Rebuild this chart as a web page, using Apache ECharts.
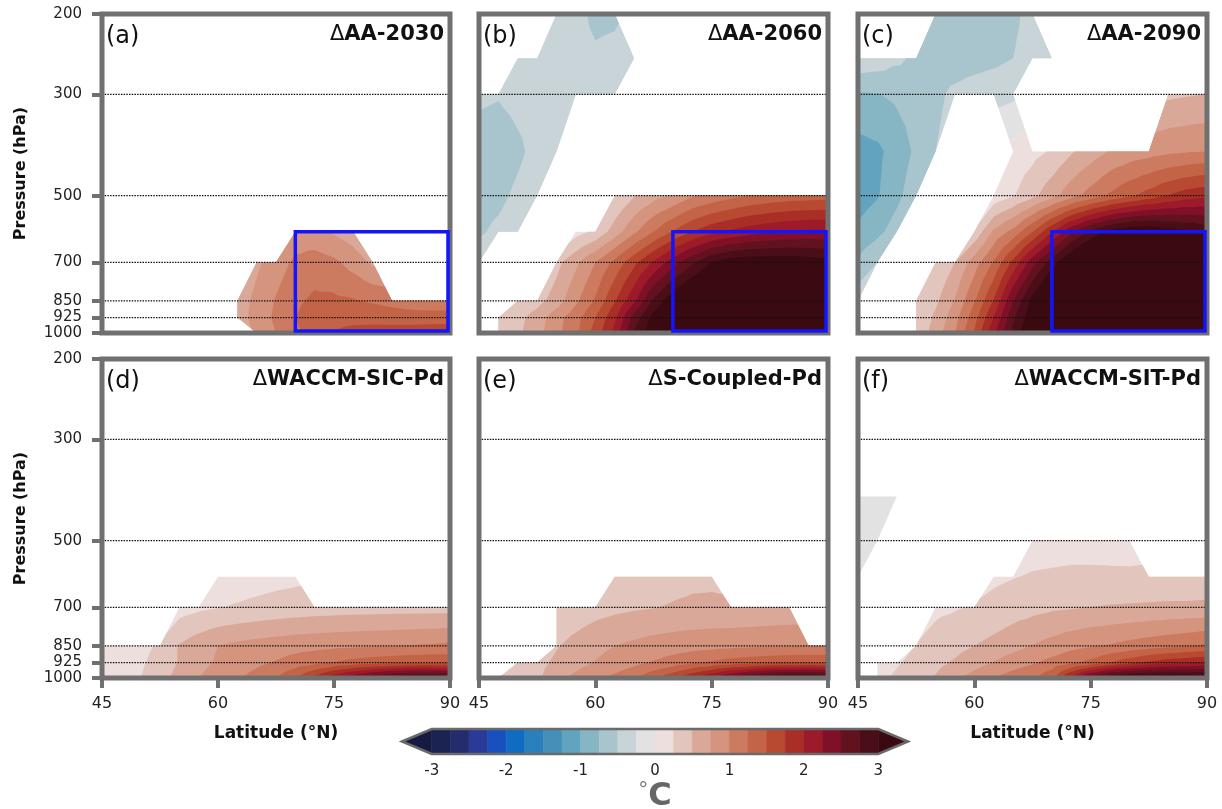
<!DOCTYPE html>
<html>
<head>
<meta charset="utf-8">
<script src="https://cdn.jsdelivr.net/npm/echarts@6/dist/echarts.min.js"></script>
<style>
  html, body { margin: 0; padding: 0; background: #fff; }
  #chart { width: 1222px; height: 809px; }
</style>
</head>
<body>
<div id="chart"></div>
<script>
const _ = null;

// grid of the zonal-mean temperature responses (°C); rows run 1000 -> 200 hPa, columns 45 -> 90°N
const LATS = [45, 47.5, 50, 52.5, 55, 57.5, 60, 62.5, 65, 67.5, 70, 72.5, 75, 77.5, 80, 82.5, 85, 87.5, 90];
const LEVELS = [1000, 925, 850, 700, 600, 500, 400, 300, 250, 200];
const PRESSURE_TICKS = [200, 300, 500, 700, 850, 925, 1000];
const DOTTED_LEVELS = [300, 500, 700, 850, 925];
const CONTOUR_LEVELS = [-3, -2.75, -2.5, -2.25, -2, -1.75, -1.5, -1.25, -1, -0.75, -0.5, -0.25, 0,
  0.25, 0.5, 0.75, 1, 1.25, 1.5, 1.75, 2, 2.25, 2.5, 2.75, 3];
const BAND_COLORS = ['#161a40',
  '#1b2352', '#242c6e', '#2a3a98', '#1a4fbe', '#0f6cc0', '#2a80bc', '#4590b8', '#62a4bf', '#86b6c4', '#a8c4cc', '#c8d4d8', '#e2e2e2',
  '#ecdfdd', '#e2c5bc', '#daa898', '#d4947e', '#cc7a60', '#c46446', '#b84a32', '#a82e26', '#9c1a2a', '#801028', '#62121e', '#4a0e18',
  '#3a0a10'];
const CBAR_LABELS = [-3, -2, -1, 0, 1, 2, 3];
const PANEL_TAGS = ['(a)', '(b)', '(c)', '(d)', '(e)', '(f)'];
const PANEL_TITLES = ['AA-2030', 'AA-2060', 'AA-2090', 'WACCM-SIC-Pd', 'S-Coupled-Pd', 'WACCM-SIT-Pd'];
const AA_BOX = { lat: [70, 90], p: [600, 1000] };

const NONE = [_, _, _, _, _, _, _, _, _, _, _, _, _, _, _, _, _, _, _];

const dT_AA2030 = [
  [_, _, _, _, _, _, _, _, 0.8, 1.0, 1.2, 1.38, 1.52, 1.58, 1.62, 1.64, 1.66, 1.68, 1.7],
  [_, _, _, _, _, _, _, 0.62, 0.85, 1.05, 1.25, 1.38, 1.42, 1.42, 1.4, 1.38, 1.36, 1.36, 1.36],
  [_, _, _, _, _, _, _, 0.62, 0.82, 1.02, 1.2, 1.3, 1.3, 1.27, 1.22, 1.17, 1.12, 1.1, 1.1],
  [_, _, _, _, _, _, _, _, 0.7, 0.88, 1.05, 1.12, 1.05, 0.9, 0.7, _, _, _, _],
  [_, _, _, _, _, _, _, _, _, _, 0.85, 0.82, 0.72, 0.6, _, _, _, _, _],
  NONE, NONE, NONE, NONE, NONE
];

const dT_AA2060 = [
  [_, 0.3, 0.45, 0.66, 0.93, 1.2, 1.6, 2.08, 2.8, 3.2, 3.5, 3.7, 3.8, 3.85, 3.85, 3.85, 3.85, 3.85, 3.85],
  [_, 0.3, 0.42, 0.62, 0.9, 1.15, 1.5, 1.95, 2.6, 3.1, 3.4, 3.6, 3.75, 3.8, 3.85, 3.85, 3.85, 3.85, 3.85],
  [_, _, 0.28, 0.4, 0.62, 0.95, 1.28, 1.73, 2.2, 2.8, 3.2, 3.5, 3.7, 3.8, 3.85, 3.85, 3.85, 3.85, 3.85],
  [-0.4, _, _, _, 0.42, 0.7, 1.0, 1.32, 1.68, 2.03, 2.38, 2.7, 3.0, 3.15, 3.2, 3.2, 3.2, 3.15, 3.1],
  [-0.53, -0.45, -0.35, _, _, 0.15, 0.3, 0.62, 0.95, 1.25, 1.52, 1.75, 1.93, 2.05, 2.15, 2.22, 2.27, 2.3, 2.3],
  [-0.6, -0.56, -0.45, -0.33, _, _, _, 0.24, 0.48, 0.66, 0.78, 0.97, 1.08, 1.17, 1.26, 1.32, 1.36, 1.38, 1.4],
  [-0.62, -0.65, -0.55, -0.42, -0.33, _, _, _, _, _, _, _, _, _, _, _, _, _, _],
  [-0.45, -0.48, -0.42, -0.38, -0.36, -0.34, -0.32, -0.3, _, _, _, _, _, _, _, _, _, _, _],
  [_, _, -0.3, -0.33, -0.36, -0.4, -0.46, -0.42, -0.32, _, _, _, _, _, _, _, _, _, _],
  [_, _, _, _, -0.33, -0.42, -0.56, -0.55, _, _, _, _, _, _, _, _, _, _, _]
];

const dT_AA2090 = [
  [_, _, _, 0.3, 0.62, 1.0, 1.53, 2.2, 2.82, 3.3, 3.6, 3.8, 3.9, 3.95, 3.95, 3.95, 3.95, 3.9, 3.9],
  [_, _, _, 0.28, 0.55, 0.9, 1.4, 2.0, 2.7, 3.2, 3.6, 3.8, 3.9, 3.95, 3.95, 3.95, 3.95, 3.9, 3.9],
  [-0.35, _, _, 0.28, 0.45, 0.77, 1.23, 1.77, 2.5, 3.1, 3.6, 3.85, 3.95, 4.0, 4.0, 4.0, 4.0, 3.95, 3.9],
  [-0.7, -0.5, _, _, 0.25, 0.5, 0.88, 1.28, 1.82, 2.4, 2.88, 3.3, 3.6, 3.8, 3.9, 3.9, 3.9, 3.8, 3.7],
  [-0.95, -0.82, -0.62, _, _, _, 0.3, 0.8, 1.08, 1.5, 1.98, 2.46, 2.82, 3.1, 3.25, 3.25, 3.15, 3.05, 2.95],
  [-1.12, -1.02, -0.82, -0.58, _, _, _, 0.08, 0.23, 0.43, 0.66, 0.9, 1.1, 1.29, 1.45, 1.6, 1.76, 1.88, 1.95],
  [-1.1, -1.05, -0.9, -0.7, -0.5, _, _, _, 0.08, 0.17, 0.28, 0.47, 0.62, 0.77, 0.85, 0.9, 0.95, 0.98, 1.0],
  [-0.78, -0.76, -0.7, -0.62, -0.55, -0.45, -0.38, -0.35, -0.3, _, _, _, _, _, _, _, 0.45, 0.48, 0.5],
  [-0.3, -0.35, -0.45, -0.55, -0.6, -0.62, -0.6, -0.56, -0.5, -0.4, -0.3, _, _, _, _, _, _, _, _],
  [_, _, _, _, -0.55, -0.6, -0.62, -0.6, -0.55, -0.42, _, _, _, _, _, _, _, _, _]
];

const dT_SIC = [
  [0.08, 0.16, 0.25, 0.42, 0.58, 0.75, 0.86, 0.97, 1.1, 1.26, 1.5, 1.85, 2.2, 2.5, 2.75, 2.95, 3.05, 3.05, 3.0],
  [0.06, 0.13, 0.21, 0.36, 0.52, 0.68, 0.78, 0.86, 0.94, 1.02, 1.1, 1.18, 1.26, 1.33, 1.38, 1.42, 1.45, 1.46, 1.45],
  [0.04, 0.09, 0.16, 0.3, 0.52, 0.64, 0.75, 0.81, 0.85, 0.88, 0.91, 0.93, 0.95, 0.96, 0.98, 0.99, 1.01, 1.03, 1.05],
  [_, _, _, _, 0.14, 0.2, 0.24, 0.27, 0.3, 0.33, 0.35, 0.37, 0.38, 0.39, 0.39, 0.4, 0.4, 0.4, 0.4],
  [_, _, _, _, _, _, 0.12, 0.14, 0.16, 0.18, 0.2, _, _, _, _, _, _, _, _],
  NONE, NONE, NONE, NONE, NONE
];

const dT_COUPLED = [
  [_, 0.3, 0.38, 0.46, 0.66, 0.82, 0.95, 1.06, 1.2, 1.45, 1.7, 2.0, 2.3, 2.6, 2.85, 3.05, 3.15, 3.15, 3.1],
  [_, _, 0.34, 0.42, 0.55, 0.66, 0.76, 0.85, 0.93, 1.02, 1.1, 1.2, 1.28, 1.35, 1.4, 1.44, 1.46, 1.47, 1.46],
  [_, _, _, _, 0.48, 0.58, 0.68, 0.75, 0.8, 0.85, 0.88, 0.9, 0.92, 0.94, 0.96, 0.98, 0.99, 1.0, 1.0],
  [_, _, _, _, 0.3, 0.35, 0.4, 0.44, 0.47, 0.49, 0.52, 0.54, 0.54, 0.53, 0.53, 0.54, 0.55, _, _],
  [_, _, _, _, _, _, _, 0.3, 0.33, 0.38, 0.42, 0.45, 0.46, _, _, _, _, _, _],
  NONE, NONE, NONE, NONE, NONE
];

const dT_SIT = [
  [_, 0.15, 0.3, 0.42, 0.52, 0.7, 0.85, 1.0, 1.12, 1.22, 1.45, 2.1, 2.7, 3.05, 3.2, 3.25, 3.25, 3.2, 3.2],
  [_, 0.12, 0.22, 0.33, 0.43, 0.53, 0.65, 0.76, 0.88, 0.97, 1.08, 1.2, 1.32, 1.5, 1.65, 1.8, 1.9, 1.95, 2.0],
  [_, _, _, 0.26, 0.34, 0.42, 0.5, 0.57, 0.66, 0.76, 0.84, 0.92, 0.98, 1.02, 1.08, 1.13, 1.18, 1.23, 1.28],
  [_, _, _, _, 0.2, 0.23, 0.27, 0.33, 0.38, 0.42, 0.46, 0.48, 0.5, 0.52, 0.53, 0.54, 0.55, 0.55, 0.56],
  [-0.05, _, _, _, _, _, _, 0.2, 0.24, 0.27, 0.28, 0.29, 0.29, 0.29, 0.29, 0.3, 0.3, 0.31, 0.31],
  [-0.12, -0.08, _, _, _, _, _, _, _, 0.14, 0.16, 0.17, 0.17, 0.16, 0.15, _, _, _, _],
  [-0.15, -0.12, -0.08, _, _, _, _, _, _, _, _, _, _, _, _, _, _, _, _],
  NONE, NONE, NONE
];

const FIELDS = [dT_AA2030, dT_AA2060, dT_AA2090, dT_SIC, dT_COUPLED, dT_SIT];

// layout
const FONT = '"DejaVu Sans", sans-serif';
const COL_LEFT = [102, 479, 858];
const COL_WIDTH = [348, 349, 349];
const ROW_TOP = [14, 359];
const ROW_HEIGHT = 319;
const FRAME = '#707070';
const CBAR_TIP = 0.4;

const LAT_MIN = LATS[0], LAT_MAX = LATS[LATS.length - 1];
const LOG_TOP = Math.log10(LEVELS[LEVELS.length - 1]), LOG_BOTTOM = Math.log10(LEVELS[0]);

// keep the part of a polygon where s * (v - c) >= 0 (v linear along the edges)
function clip(poly, c, s) {
  const out = [];
  for (let i = 0; i < poly.length; i++) {
    const p = poly[i], q = poly[(i + 1) % poly.length];
    const pin = s * (p[2] - c) >= 0, qin = s * (q[2] - c) >= 0;
    if (pin) out.push(p);
    if (pin !== qin) {
      const t = (c - p[2]) / (q[2] - p[2]);
      out.push([p[0] + t * (q[0] - p[0]), p[1] + t * (q[1] - p[1]), c]);
    }
  }
  return out;
}

// split each grid cell into triangles; a cell with one masked corner keeps the other three
function triangles(field) {
  const tris = [];
  const ly = LEVELS.map(p => Math.log10(p));
  for (let k = 0; k < LEVELS.length - 1; k++) {
    for (let i = 0; i < LATS.length - 1; i++) {
      const c = [
        [LATS[i], ly[k], field[k][i]],
        [LATS[i + 1], ly[k], field[k][i + 1]],
        [LATS[i + 1], ly[k + 1], field[k + 1][i + 1]],
        [LATS[i], ly[k + 1], field[k + 1][i]]
      ];
      const ok = c.filter(q => q[2] !== null);
      if (ok.length === 4) {
        const m = [(c[0][0] + c[1][0]) / 2, (c[0][1] + c[3][1]) / 2,
          (c[0][2] + c[1][2] + c[2][2] + c[3][2]) / 4];
        for (let j = 0; j < 4; j++) tris.push([c[j], c[(j + 1) % 4], m]);
      } else if (ok.length === 3) {
        tris.push(ok);
      }
    }
  }
  return tris;
}

// stacked fill layers: v < 0, v < -0.25, ... and v >= 0, v >= 0.25, ... painted in order
function contourLayers(field) {
  const tris = triangles(field);
  const zero = CONTOUR_LEVELS.indexOf(0);
  const defs = [];
  for (let j = zero; j >= 0; j--) defs.push({ color: BAND_COLORS[j], c: CONTOUR_LEVELS[j], s: -1 });
  for (let j = zero; j < CONTOUR_LEVELS.length; j++) defs.push({ color: BAND_COLORS[j + 1], c: CONTOUR_LEVELS[j], s: 1 });
  const layers = [];
  defs.forEach(d => {
    const polys = [];
    tris.forEach(t => {
      const poly = clip(t, d.c, d.s);
      if (poly.length >= 3) polys.push(poly.map(q => [q[0], q[1]]));
    });
    if (polys.length) layers.push({ color: d.color, polys: polys });
  });
  return layers;
}

const chart = echarts.init(document.getElementById('chart'));

const grids = [], xAxes = [], yAxes = [], series = [], texts = [];
const tickVals = PRESSURE_TICKS.map(p => Math.log10(p));

FIELDS.forEach((field, p) => {
  const r = Math.floor(p / 3), c = p % 3;
  const left = COL_LEFT[c], top = ROW_TOP[r];
  grids.push({ left: left, top: top, width: COL_WIDTH[c], height: ROW_HEIGHT, outerBoundsMode: 'none' });
  const bottomRow = r === 1, leftCol = c === 0;
  xAxes.push({
    gridIndex: p, type: 'value', min: 45, max: 90, interval: 15,
    axisLine: { show: false }, splitLine: { show: false },
    axisTick: { show: bottomRow, length: 10, lineStyle: { color: FRAME, width: 4 } },
    axisLabel: { show: bottomRow, fontSize: 16, color: '#222', margin: 18, fontFamily: FONT, hideOverlap: false },
    name: bottomRow && c !== 1 ? 'Latitude (°N)' : '',
    nameLocation: 'middle', nameGap: 47,
    nameTextStyle: { fontSize: 17, fontWeight: 'bold', color: '#111', fontFamily: FONT }
  });
  yAxes.push({
    gridIndex: p, type: 'value', inverse: true, min: LOG_TOP, max: LOG_BOTTOM,
    axisLine: { show: false }, splitLine: { show: false },
    axisTick: { show: leftCol, customValues: tickVals, length: 10, lineStyle: { color: FRAME, width: 4 } },
    axisLabel: {
      show: leftCol, customValues: tickVals, fontSize: 15, color: '#222', margin: 20,
      fontFamily: FONT, hideOverlap: false,
      formatter: v => String(Math.round(Math.pow(10, v)))
    },
    name: leftCol ? 'Pressure (hPa)' : '', nameLocation: 'middle', nameGap: 73, nameRotate: 90,
    nameTextStyle: { fontSize: 16, fontWeight: 'bold', color: '#111', fontFamily: FONT }
  });

  const layers = contourLayers(field);
  series.push({
    type: 'custom', xAxisIndex: p, yAxisIndex: p, z: 2, silent: true,
    data: layers.map((d, i) => [i]),
    renderItem: (params, api) => {
      const layer = layers[api.value(0)];
      const d = layer.polys.map(poly =>
        'M' + poly.map(q => api.coord(q).map(v => v.toFixed(2)).join(' ')).join('L') + 'Z').join('');
      return { type: 'path', shape: { pathData: d }, style: { fill: layer.color, stroke: null } };
    }
  });
  series.push({
    type: 'custom', xAxisIndex: p, yAxisIndex: p, z: 3, silent: true,
    data: DOTTED_LEVELS.map(v => [v]),
    renderItem: (params, api) => {
      const lp = Math.log10(api.value(0));
      const a = api.coord([LAT_MIN, lp]), b = api.coord([LAT_MAX, lp]);
      return { type: 'line', shape: { x1: a[0], y1: a[1], x2: b[0], y2: b[1] },
        style: { stroke: '#111', lineWidth: 1.3, lineDash: [1.5, 1.2] } };
    }
  });
  series.push({
    type: 'custom', xAxisIndex: p, yAxisIndex: p, z: 4, silent: true,
    data: [[0]],
    renderItem: (params, api) => {
      const a = api.coord([LAT_MIN, LOG_TOP]), b = api.coord([LAT_MAX, LOG_BOTTOM]);
      return { type: 'rect', shape: { x: a[0], y: a[1], width: b[0] - a[0], height: b[1] - a[1] },
        style: { fill: 'none', stroke: FRAME, lineWidth: 5 } };
    }
  });
  if (r === 0) {
    series.push({
      type: 'custom', xAxisIndex: p, yAxisIndex: p, z: 5, silent: true,
      data: [[AA_BOX.lat[0]]],
      renderItem: (params, api) => {
        const a = api.coord([AA_BOX.lat[0], Math.log10(AA_BOX.p[0])]);
        const b = api.coord([AA_BOX.lat[1], Math.log10(AA_BOX.p[1])]);
        return { type: 'rect', shape: { x: a[0], y: a[1], width: b[0] - a[0] - 2, height: b[1] - a[1] - 2 },
          style: { fill: 'none', stroke: '#1414ff', lineWidth: 3.5 } };
      }
    });
  }

  texts.push({
    type: 'text', x: left + 4, y: top + 23, z: 100,
    style: { text: PANEL_TAGS[p], fontSize: 24, fontFamily: FONT, fill: '#111',
      verticalAlign: 'middle', textVerticalAlign: 'middle' }
  });
  texts.push({
    type: 'text', x: left + COL_WIDTH[c] - 6, y: top + 21, z: 100,
    style: {
      text: '{d|Δ}{t|' + PANEL_TITLES[p] + '}', fill: '#111',
      rich: {
        d: { fontSize: 21, fontFamily: FONT, fontWeight: 'normal', fill: '#111' },
        t: { fontSize: 21, fontFamily: FONT, fontWeight: 'bold', fill: '#111' }
      },
      align: 'right', textAlign: 'right', verticalAlign: 'middle', textVerticalAlign: 'middle'
    }
  });
});

// colour bar
const CB = FIELDS.length;
grids.push({ left: 402, top: 729, width: 506, height: 25, outerBoundsMode: 'none' });
const L0 = CONTOUR_LEVELS[0], L1 = CONTOUR_LEVELS[CONTOUR_LEVELS.length - 1];
xAxes.push({
  gridIndex: CB, type: 'value', min: L0 - CBAR_TIP, max: L1 + CBAR_TIP,
  axisLine: { show: false }, splitLine: { show: false }, axisTick: { show: false },
  axisLabel: { customValues: CBAR_LABELS, fontSize: 15, color: '#222', margin: 10, fontFamily: FONT,
    hideOverlap: false }
});
yAxes.push({ gridIndex: CB, type: 'value', min: 0, max: 1, show: false });
series.push({
  type: 'custom', xAxisIndex: CB, yAxisIndex: CB, z: 2, silent: true,
  data: BAND_COLORS.map((col, i) => [i]),
  renderItem: (params, api) => {
    const b = api.value(0), last = BAND_COLORS.length - 1;
    let pts;
    if (b === 0) pts = [[L0, 0], [L0, 1], [L0 - CBAR_TIP, 0.5]];
    else if (b === last) pts = [[L1, 0], [L1, 1], [L1 + CBAR_TIP, 0.5]];
    else {
      const a = CONTOUR_LEVELS[b - 1], z = CONTOUR_LEVELS[b];
      pts = [[a, 0], [z, 0], [z, 1], [a, 1]];
    }
    const col = BAND_COLORS[b];
    return { type: 'polygon', shape: { points: pts.map(q => api.coord(q)) },
      style: { fill: col, stroke: col, lineWidth: 0.6 } };
  }
});
series.push({
  type: 'custom', xAxisIndex: CB, yAxisIndex: CB, z: 3, silent: true,
  data: [[0]],
  renderItem: (params, api) => {
    const pts = [[L0 - CBAR_TIP, 0.5], [L0, 1], [L1, 1], [L1 + CBAR_TIP, 0.5], [L1, 0], [L0, 0]];
    return { type: 'polygon', shape: { points: pts.map(q => api.coord(q)) },
      style: { fill: 'none', stroke: '#6a6a6a', lineWidth: 2.5 } };
  }
});
texts.push({
  type: 'text', x: 655, y: 797, z: 100,
  style: {
    text: '{a|°}{b|C}', fill: '#666',
    rich: {
      a: { fontSize: 20, fontFamily: FONT, fill: '#777', verticalAlign: 'top' },
      b: { fontSize: 32, fontFamily: FONT, fontWeight: 'bold', fill: '#666' }
    },
    align: 'center', textAlign: 'center', verticalAlign: 'middle', textVerticalAlign: 'middle'
  }
});

chart.setOption({
  animation: false,
  backgroundColor: '#fff',
  textStyle: { fontFamily: FONT },
  grid: grids,
  xAxis: xAxes,
  yAxis: yAxes,
  series: series,
  graphic: { elements: texts }
});
</script>
</body>
</html>
